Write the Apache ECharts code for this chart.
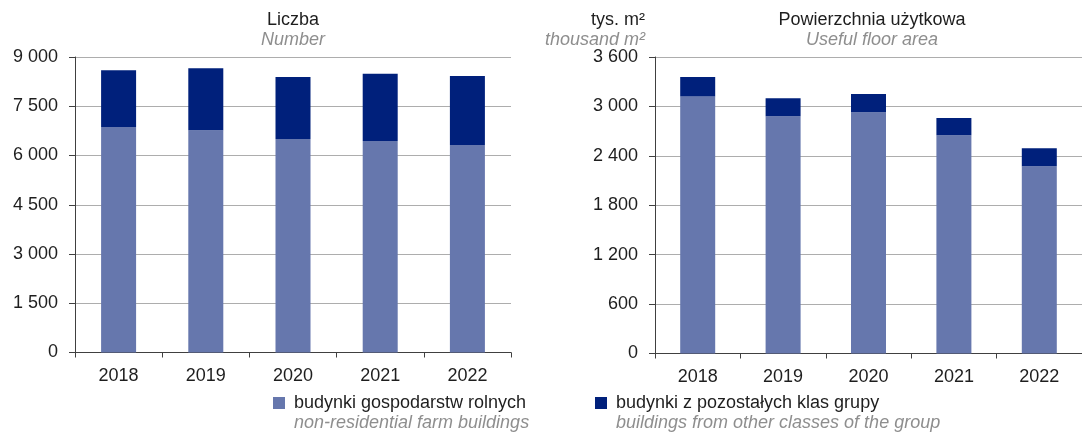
<!DOCTYPE html>
<html>
<head>
<meta charset="utf-8">
<script src="https://cdn.jsdelivr.net/npm/echarts@6/dist/echarts.min.js"></script>
<style>
  html, body { margin: 0; padding: 0; background: #ffffff; }
  #chart { width: 1082px; height: 432px; }
</style>
</head>
<body>
<div id="chart"></div>
<script>
// Years on the category axes
const years = ['2018', '2019', '2020', '2021', '2022'];

// Number of buildings
const countFarm = [6870, 6770, 6500, 6440, 6320];
const countOther = [1730, 1890, 1890, 2050, 2100];

// Useful floor area, thousand m2
const areaFarm = [3120, 2880, 2928, 2650, 2273];
const areaOther = [237, 218, 223, 210, 218];

// Value axis ranges and steps
const countAxisMax = 9000, countAxisStep = 1500;
const areaAxisMax = 3600, areaAxisStep = 600;

// Series names shown in the legend
const nameFarm = 'budynki gospodarstw rolnych';
const nameOther = 'budynki z pozostałych klas grupy';
const nameFarmEn = 'non-residential farm buildings';
const nameOtherEn = 'buildings from other classes of the group';

const FONT = '"Liberation Sans", Arial, sans-serif';
const LIGHT = '#6677ad';
const DARK = '#00207b';
const TEXT = '#1e1e1e';
const GREY = '#8e8e8e';

const fmtThousands = v => String(v).replace(/\B(?=(\d{3})+(?!\d))/g, ' ');

function valueAxis(gridIndex, max, step) {
  return {
    type: 'value', gridIndex, min: 0, max, interval: step,
    axisLine: { show: true, lineStyle: { color: '#404040', width: 1 } },
    axisTick: { show: true, inside: false, length: 6, lineStyle: { color: '#404040' } },
    splitLine: { show: true, lineStyle: { color: '#adadad', width: 1 } },
    axisLabel: { formatter: fmtThousands, fontFamily: FONT, fontSize: 18, color: TEXT, margin: 17 }
  };
}

function categoryAxis(gridIndex) {
  return {
    type: 'category', gridIndex, data: years, boundaryGap: true,
    axisLine: { show: true, lineStyle: { color: '#404040', width: 1 } },
    axisTick: { show: true, inside: false, length: 5, alignWithLabel: false, lineStyle: { color: '#404040' } },
    axisLabel: { fontFamily: FONT, fontSize: 18, color: TEXT, margin: 15 }
  };
}

function bar(name, data, axisIndex, color, stack) {
  return {
    name, type: 'bar', data, stack,
    xAxisIndex: axisIndex, yAxisIndex: axisIndex,
    barWidth: 35,
    itemStyle: { color },
    emphasis: { disabled: true },
    animation: false
  };
}

function legendItem(name, left) {
  return {
    data: [name], left, top: 393, padding: 0,
    icon: 'rect', itemWidth: 12, itemHeight: 12,
    selectedMode: false,
    textStyle: { fontFamily: FONT, fontSize: 18, color: TEXT, lineHeight: 20, padding: [0, 0, 0, 4] }
  };
}

function label(text, x, y, align, italic, color) {
  return {
    type: 'text', silent: true,
    style: {
      text, x, y, align, verticalAlign: 'middle',
      fontFamily: FONT, fontSize: 18, fontStyle: italic ? 'italic' : 'normal',
      fill: color
    }
  };
}

const chart = echarts.init(document.getElementById('chart'), null, { renderer: 'canvas' });

chart.setOption({
  animation: false,
  backgroundColor: '#ffffff',
  grid: [
    { left: 75, top: 57, width: 436, height: 295.5 },
    { left: 655, top: 57, width: 436, height: 296.5 }
  ],
  xAxis: [categoryAxis(0), categoryAxis(1)],
  yAxis: [valueAxis(0, countAxisMax, countAxisStep), valueAxis(1, areaAxisMax, areaAxisStep)],
  legend: [legendItem(nameFarm, 273), legendItem(nameOther, 595)],
  series: [
    bar(nameFarm, countFarm, 0, LIGHT, 'count'),
    bar(nameOther, countOther, 0, DARK, 'count'),
    bar(nameFarm, areaFarm, 1, LIGHT, 'area'),
    bar(nameOther, areaOther, 1, DARK, 'area')
  ],
  graphic: [
    label('Liczba', 293, 20, 'center', false, TEXT),
    label('Number', 293, 40, 'center', true, GREY),
    label('Powierzchnia użytkowa', 872, 20, 'center', false, TEXT),
    label('Useful floor area', 872, 40, 'center', true, GREY),
    label('tys. m²', 645, 20, 'right', false, TEXT),
    label('thousand m²', 645, 40, 'right', true, GREY),
    label(nameFarmEn, 294, 423, 'left', true, GREY),
    label(nameOtherEn, 616, 423, 'left', true, GREY)
  ]
});
</script>
</body>
</html>
